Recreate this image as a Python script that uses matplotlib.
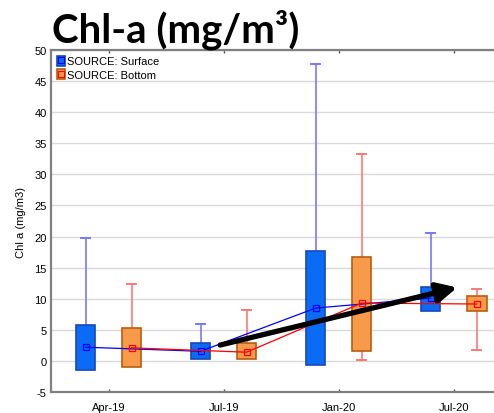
import numpy as np
import matplotlib.pyplot as plt
from matplotlib.patches import Patch
from matplotlib.lines import Line2D
from matplotlib.legend_handler import HandlerTuple

plt.rcParams['font.family'] = ['Liberation Sans', 'DejaVu Sans']
plt.rcParams['axes.unicode_minus'] = False

# sampling dates and chlorophyll-a summaries (mean, box, whisker range)
dates = ['Apr-19', 'Jul-19', 'Jan-20', 'Jul-20']

surface_mean = [2.2, 1.55, 8.5, 10.1]
surface_box_lo = [-1.4, 0.25, -0.7, 8.1]
surface_box_hi = [5.8, 2.9, 17.7, 11.9]
surface_min = [np.nan, np.nan, np.nan, np.nan]
surface_max = [19.7, 6.0, 47.7, 20.6]

bottom_mean = [2.1, 1.4, 9.3, 9.15]
bottom_box_lo = [-1.0, 0.25, 1.65, 8.0]
bottom_box_hi = [5.3, 2.8, 16.7, 10.4]
bottom_min = [np.nan, np.nan, 0.2, 1.8]
bottom_max = [12.3, 8.2, 33.2, 11.6]

# trend arrow (start, end) in data units
trend_start = (0.97, 2.55)
trend_end = (3.03, 11.8)

series = [
    dict(name='SOURCE: Surface', off=-0.2, mean=surface_mean, lo=surface_box_lo,
         hi=surface_box_hi, mn=surface_min, mx=surface_max,
         fill='#0a6cf5', edge='#1a46b8', whisk='#7878ff', line='#0000ff'),
    dict(name='SOURCE: Bottom', off=0.2, mean=bottom_mean, lo=bottom_box_lo,
         hi=bottom_box_hi, mn=bottom_min, mx=bottom_max,
         fill='#f79a4a', edge='#b85c10', whisk='#ff7878', line='#ff0000'),
]

fig = plt.figure(figsize=(4.94, 4.14), dpi=100)
ax = fig.add_axes([51 / 494, 21 / 414, 443 / 494, 342 / 414])

x = np.arange(len(dates))
box_w = 0.17
cap_w = 0.08

handles = []
for s in series:
    xs = x + s['off']
    lo = np.array(s['lo'])
    hi = np.array(s['hi'])
    mn = np.array(s['mn'], dtype=float)
    mx = np.array(s['mx'], dtype=float)
    # whiskers with caps
    for xi, l, h, a, b in zip(xs, lo, hi, mn, mx):
        if not np.isnan(b) and b > h:
            ax.plot([xi, xi], [h, b], color=s['whisk'], lw=1.2, zorder=2)
            ax.plot([xi - cap_w / 2, xi + cap_w / 2], [b, b], color=s['whisk'], lw=1.4, zorder=2)
        if not np.isnan(a) and a < l:
            ax.plot([xi, xi], [a, l], color=s['whisk'], lw=1.2, zorder=2)
            ax.plot([xi - cap_w / 2, xi + cap_w / 2], [a, a], color=s['whisk'], lw=1.4, zorder=2)
    ax.bar(xs, hi - lo, bottom=lo, width=box_w, color=s['fill'],
           edgecolor=s['edge'], linewidth=1.2, zorder=3)
    ax.plot(xs, s['mean'], color=s['line'], lw=0.9, marker='s', ms=5,
            mfc='none', mec=s['line'], mew=0.9, zorder=4)
    handles.append((Patch(facecolor=s['fill'], edgecolor=s['edge'], lw=1.2),
                    Line2D([], [], ls='none', marker='s', ms=4, mfc='none',
                           mec=s['line'], mew=0.8)))

ax.annotate('', xy=trend_end, xytext=trend_start,
            arrowprops=dict(arrowstyle='-|>', lw=3.8, color='black',
                            mutation_scale=30, shrinkA=0, shrinkB=0),
            zorder=5)

ax.set_xlim(-0.5, 3.35)
ax.set_ylim(-5, 50)
ax.set_yticks(np.arange(-5, 51, 5))
ax.set_xticks(x)
ax.set_xticklabels(dates, fontsize=8)
ax.tick_params(axis='y', length=0, labelsize=8, pad=3)
ax.tick_params(axis='x', direction='in', length=2.5, width=1, color='#555555',
               top=True, pad=7)
ax.yaxis.grid(True, color='#d9d9d9', lw=1)
ax.set_axisbelow(True)
for side in ['left', 'bottom', 'top']:
    ax.spines[side].set_color('#808080')
    ax.spines[side].set_linewidth(1.6)
ax.spines['right'].set_visible(False)
ax.set_ylabel('Chl a (mg/m3)', fontsize=8, labelpad=6)

ax.legend(handles, [s['name'] for s in series],
          handler_map={tuple: HandlerTuple(ndivide=1, pad=0)},
          loc='upper left', frameon=False, fontsize=8, handlelength=0.8,
          handleheight=1.0, handletextpad=0.1, borderaxespad=0.3,
          labelspacing=0.25, borderpad=0.2)

fig.text(52 / 494, 1 - 9 / 414, 'Chl-a (mg/m³)', fontsize=29, fontweight='bold',
         family=['Lato', 'DejaVu Sans'], va='top', ha='left')

fig.savefig('out.png', dpi=100)
